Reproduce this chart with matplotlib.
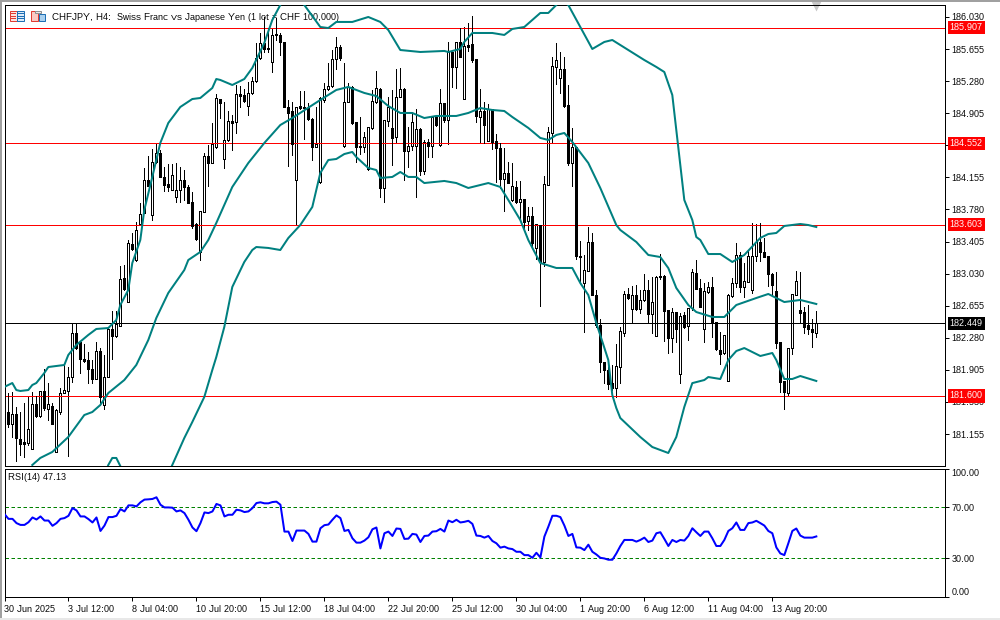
import matplotlib
matplotlib.use('Agg')
import matplotlib.pyplot as plt
from matplotlib.patches import Rectangle
from matplotlib.lines import Line2D
import numpy as np

plt.rcParams['font.family'] = ['Liberation Sans', 'DejaVu Sans']
plt.rcParams['text.hinting'] = 'native'
plt.rcParams['text.hinting_factor'] = 1

# white candle: open=low side of body, black candle: open=high side of body
opens = [181.60,181.415,181.27,181.387,181.10,181.056,181.052,180.985,181.504,181.368,181.652,181.45,181.485,180.95,181.415,181.63,181.66,181.816,182.33,182.234,182.027,182.019,181.91,181.797,182.124,181.493,181.816,182.378,182.304,182.421,182.975,182.702,
183.382,183.187,183.608,183.733,184.123,183.714,184.33,184.435,184.162,184.076,184.006,183.92,184.006,184.123,184.045,183.87,183.608,183.285,183.745,184.404,184.326,184.513,185.071,184.373,184.591,184.813,184.805,185.125,185.118,184.993,185.137,185.281,185.546,185.722,185.664,185.5,185.827,185.82,185.742,184.981,184.93,184.123,184.985,184.973,184.961,184.833,184.513,184.104,185.059,185.184,185.223,185.535,185.683,184.525,185.04,185.207,184.798,184.521,184.505,184.252,184.728,185.032,185.188,184.026,184.817,184.728,184.622,185.098,185.184,184.466,184.521,184.521,184.716,184.232,184.572,184.525,184.856,184.533,185.02,184.825,185.617,185.441,185.734,185.067,185.702,185.714,185.535,184.864,184.93,184.583,184.95,184.579,184.494,184.135,184.201,183.889,184.045,183.87,183.901,183.643,183.702,183.331,183.604,183.168,184.065,184.669,185.449,185.32,185.418,184.997,184.318,184.513,
183.228,182.916,183.064,183.396,182.78,182.429,181.992,181.902,181.746,181.695,181.941,182.339,182.791,182.612,182.776,182.612,182.721,182.838,182.553,182.304,183.002,183.002,182.604,182.28,182.577,181.851,182.545,182.421,182.623,183.033,182.858,182.378,182.811,182.869,182.467,182.136,182.097,181.777,182.772,182.924,183.248,182.877,182.935,182.838,183.236,183.404,183.287,183.236,183.021,182.826,182.226,181.773,181.637,182.156,182.78,182.604,182.577,182.425,182.382,182.339]
highs = [181.63,181.63,181.65,181.47,181.415,181.512,181.59,181.65,181.60,181.66,181.92,181.746,181.512,181.446,181.688,181.96,181.94,182.448,182.448,182.234,182.206,182.117,182.019,182.226,182.156,182.078,182.39,182.592,182.592,183.119,183.13,183.423,
183.499,183.63,183.854,184.26,184.404,184.49,184.56,184.47,184.279,184.31,184.31,184.318,184.279,184.24,184.065,183.987,183.616,183.764,184.435,184.533,184.794,185.125,185.071,185.032,184.93,184.884,185.235,185.223,185.184,185.273,185.332,185.722,185.839,186.034,185.9,185.9,186.015,185.847,185.742,185.059,185.04,184.981,185.168,185.168,185.02,184.845,184.981,185.09,185.254,185.488,185.644,185.792,185.702,185.488,185.254,185.223,184.798,184.864,184.688,184.747,185.176,185.398,185.196,184.825,185.098,185.176,185.418,185.43,185.196,184.747,184.903,184.95,184.728,184.591,184.60,184.876,184.884,185.188,185.02,185.734,185.617,185.742,185.90,185.909,185.956,186.042,185.535,185.188,185.04,185.012,184.95,184.657,184.552,184.501,184.338,184.318,184.111,184.111,183.901,183.811,183.811,183.608,183.604,184.17,184.747,185.566,185.73,185.625,185.558,185.235,184.727,184.513,
183.411,183.248,183.571,183.509,182.838,182.499,181.992,181.941,181.96,182.206,182.409,182.826,182.858,182.889,182.897,182.838,183.021,182.955,182.986,183.002,183.255,183.013,182.604,182.624,182.577,182.565,182.584,182.623,183.084,183.189,182.963,182.916,182.936,182.986,182.467,182.35,182.312,182.791,182.975,183.384,183.279,183.15,183.306,183.618,183.61,183.626,183.443,183.236,183.033,183.053,182.226,181.773,182.156,182.791,183.06,183.045,182.635,182.662,182.499,182.596]
lows = [181.49,181.24,181.12,180.84,180.91,180.89,181.025,180.985,181.356,181.356,181.434,181.317,181.27,180.95,181.387,181.63,180.896,181.766,182.144,181.87,182.0,181.754,181.754,181.797,181.493,181.446,181.816,182.035,182.292,182.421,182.838,182.694,
183.306,183.176,183.6,183.733,184.057,183.655,184.318,184.162,183.998,183.998,184.006,183.87,183.87,183.889,183.85,183.569,183.421,183.187,183.745,184.053,184.326,184.494,184.845,184.26,184.58,184.474,184.669,184.981,185.04,184.884,185.13,185.27,185.54,185.625,185.617,185.39,185.761,185.585,184.981,184.291,184.415,183.608,184.96,184.599,184.825,184.357,184.513,184.092,185.04,185.18,185.215,185.418,185.527,184.513,185.04,184.778,184.338,184.427,184.454,184.24,184.716,185.02,183.928,183.87,184.755,184.3,184.552,185.09,184.123,184.279,184.474,183.92,184.181,184.193,184.396,184.388,184.76,184.525,184.806,184.544,185.215,185.196,185.56,185.067,185.636,185.508,184.806,184.56,184.56,184.575,184.486,184.104,184.033,183.764,184.085,183.88,183.85,183.655,183.538,183.538,183.324,183.199,182.653,183.121,184.065,184.552,185.246,185.137,184.973,184.3,184.053,183.203,
182.916,182.343,183.055,182.78,182.409,181.875,181.746,181.676,181.668,181.59,181.746,182.304,182.73,182.468,182.60,182.565,182.71,182.448,182.331,182.304,182.963,182.245,182.097,182.117,182.234,181.754,182.40,182.253,182.61,182.845,182.635,182.234,182.80,182.292,182.135,181.968,182.09,181.777,182.76,182.877,182.819,182.76,182.93,182.807,183.177,183.181,183.22,182.889,182.78,182.163,181.649,181.453,181.602,182.085,182.78,182.448,182.331,182.323,182.175,182.284]
closes = [181.53,181.27,181.387,181.114,181.036,181.04,181.208,181.504,181.368,181.652,181.454,181.50,181.274,181.434,181.63,181.664,181.816,182.33,182.155,182.027,182.011,181.91,181.797,182.124,181.59,181.816,182.378,182.304,182.436,182.963,182.846,183.384,
183.312,183.538,183.725,184.123,184.057,184.33,184.435,184.162,184.065,184.045,184.18,184.006,184.123,184.045,183.858,183.585,183.44,183.764,184.404,184.326,184.544,185.079,185.02,184.591,184.817,184.794,185.125,185.11,185.051,185.137,185.281,185.546,185.722,185.656,185.656,185.82,185.816,185.742,184.981,184.911,184.544,184.981,184.969,184.961,184.833,184.513,184.544,185.079,185.184,185.223,185.535,185.683,185.546,185.04,185.207,184.786,184.513,184.505,184.622,184.739,185.047,185.196,184.026,184.825,184.981,184.618,185.098,185.184,184.466,184.521,184.798,184.716,184.232,184.572,184.525,184.856,184.767,185.02,184.825,185.617,185.441,185.734,185.566,185.695,185.683,185.527,184.876,184.93,184.767,184.95,184.572,184.494,184.135,184.201,184.092,184.053,183.87,183.897,183.636,183.702,183.39,183.608,183.168,184.072,184.681,185.457,185.527,185.418,184.989,184.318,184.513,183.238,
183.24,183.072,183.396,182.78,182.429,181.992,181.902,181.738,181.695,181.949,182.358,182.791,182.74,182.776,182.612,182.721,182.838,182.553,182.694,182.986,182.986,182.596,182.272,182.577,182.378,182.538,182.409,182.623,183.045,182.85,182.643,182.826,182.869,182.467,182.144,182.089,182.312,182.776,182.916,183.248,182.877,182.943,183.236,183.236,183.404,183.287,183.228,183.021,182.896,182.222,181.766,181.649,182.156,182.791,182.943,182.573,182.409,182.378,182.351,182.448]

# bollinger bands, read at the bends of each curve
upper_i = [0,2,3,4,6,7,8,10,11,15,16,18,21,23,26,28,29,31,32,34,35,37,39,41,44,47,49,52,53,54,57,60,62,65,67,69,71,75,79,81,83,87,91,94,96,99,104,110,111,114,115,117,122,125,127,130,134,136,138,139,141,144,147,150,152,156,160,163,165,167,168,170,172,173,174,176,179,182,185,189,191,193,195,199,201,203]
upper = [181.705,181.751,181.669,181.658,181.669,181.728,181.751,181.868,181.938,181.962,182.079,182.196,182.313,182.383,182.394,182.488,182.663,182.839,183.154,183.423,183.774,184.16,184.557,184.791,184.978,185.071,185.083,185.2,185.305,185.294,185.235,185.305,185.434,185.726,185.995,186.17,186.322,186.17,185.913,185.901,185.972,185.972,186.03,185.972,185.878,185.644,185.621,185.633,185.621,185.656,185.738,185.843,185.843,185.82,185.89,185.913,186.077,186.077,186.17,186.229,186.17,185.913,185.656,185.738,185.761,185.644,185.527,185.446,185.387,185.118,184.709,183.891,183.657,183.458,183.423,183.259,183.259,183.166,183.248,183.447,183.493,183.505,183.587,183.61,183.598,183.575]
middle_i = [7,9,12,16,20,22,24,26,30,33,36,38,41,45,46,49,51,53,57,61,65,69,72,79,83,86,90,93,96,99,102,105,108,113,116,119,122,125,127,131,134,136,138,140,142,146,149,153,154,158,161,164,166,168,171,173,177,180,183,188,191,195,199,203]
middle = [180.793,180.875,180.945,181.12,181.377,181.412,181.494,181.634,181.786,181.962,182.254,182.511,182.804,183.072,183.189,183.283,183.423,183.622,184.043,184.323,184.557,184.767,184.849,185.06,185.177,185.212,185.142,185.106,184.989,184.908,184.908,184.849,184.873,184.873,184.908,184.966,184.943,184.931,184.861,184.733,184.616,184.592,184.651,184.674,184.569,184.323,184.031,183.598,183.54,183.4,183.248,183.224,183.095,182.862,182.663,182.581,182.523,182.523,182.663,182.745,182.792,182.698,182.722,182.675]
lower_i = [25,26,27,28,29,30,33,38,42,45,47,50,52,53,55,57,60,62,63,66,69,71,74,77,79,81,83,85,87,88,91,93,94,97,99,101,103,105,110,113,116,121,124,126,129,131,134,138,142,144,146,148,151,152,153,154,159,162,166,168,170,172,175,176,179,181,183,185,189,192,193,195,197,199,203]
lower = [180.676,180.793,180.875,180.875,180.781,180.617,180.4,180.4,180.793,181.108,181.295,181.588,181.903,182.055,182.406,182.874,183.166,183.306,183.341,183.33,183.306,183.446,183.598,183.809,184.206,184.358,184.37,184.428,184.452,184.393,184.265,184.241,184.148,184.16,184.218,184.16,184.16,184.089,184.113,184.089,184.031,184.089,184.043,183.891,183.657,183.423,183.154,183.096,183.096,182.92,182.78,182.453,182.02,181.611,181.459,181.342,181.12,181.003,180.933,181.12,181.471,181.75,181.786,181.821,181.798,182.02,182.125,182.16,182.067,182.102,182.02,181.798,181.798,181.833,181.775]

rsi = [64.5,60.8,60.8,57.5,56.1,56.1,58.2,61.9,60.3,62.7,59.5,59.5,55.4,57.5,60.8,61.4,63.2,69.2,67.4,62.7,62.7,60.6,58,61.9,51.4,55.6,62.2,62.2,63.2,68.4,66.6,71.3,71.3,70.5,73.7,75.8,76,76.3,77.6,71.8,69.7,69.7,69.5,66.6,67.4,65.3,60.1,54.1,51.2,57.5,65.8,65.3,66.6,72.4,71.3,62.7,64,64,67.9,67.4,66.1,66.6,69.2,73.1,73.7,72.9,72.9,73.9,74.2,71.8,50.9,50.9,43.6,51.7,51.7,51.7,49.1,43.1,43.1,53.5,55.9,56.4,60.1,63.5,61.4,51.4,52.2,45.7,42.3,42.3,43.9,46.5,52.7,54.1,37.8,49.6,50.9,47.5,53.3,53,45.2,45.4,49.1,48.6,42.8,47.5,47.8,50.9,51.2,53,50.9,59.5,58.2,60.1,58,58.5,59.3,56.9,47.8,47.5,46.2,47.5,43.6,41.8,38.4,
39.2,37.8,37.3,35.2,35.2,32.6,32.6,30.5,34.4,30.8,47,54.8,63.2,63.2,62.2,55.6,47.5,49.1,38.6,38.4,36.5,40.7,35.2,33.1,30.5,30,29,29,33.9,39.7,44.4,44.4,44.4,43.1,44.4,46.2,42.8,43.9,49.6,50.4,45.2,39.7,44.4,42.8,44.4,43.9,47.5,53.5,50.4,47.5,50.9,50.9,45.7,39.7,39.7,44.4,51.4,53.5,58,52.2,52.2,57.5,58,59.3,57.5,55.6,51.4,49.6,38.6,33.9,32.6,41.8,51.4,53.3,47.8,46.2,46.2,46.2,47.13]

price_ticks = [186.030,185.655,185.280,184.905,184.530,184.155,183.780,183.405,183.030,182.655,182.280,181.905,181.530,181.155]
red_levels = [185.907,184.552,183.603,181.600]
last_price = 182.449
time_ticks = [0,16,32,48,64,80,96,112,128,144,160,176,192]
time_labels = ['30 Jun 2025','3 Jul 12:00','8 Jul 04:00','10 Jul 20:00','15 Jul 12:00','18 Jul 04:00','22 Jul 20:00','25 Jul 12:00','30 Jul 04:00','1 Aug 20:00','6 Aug 12:00','11 Aug 04:00','13 Aug 20:00']

W, H = 1000, 620
PX = 0.72
FS = 6.8
TEAL = '#008080'

def box(l, t, r, b):
    return [l / W, 1 - b / H, (r - l) / W, (b - t) / H]

fig = plt.figure(figsize=(10, 6.2), dpi=100, facecolor='white')

# window edges and title icons, in pixels
bg = fig.add_axes([0, 0, 1, 1], zorder=5)
bg.set_xlim(0, W)
bg.set_ylim(H, 0)
bg.axis('off')
bg.patch.set_alpha(0)
bg.add_patch(Rectangle((0, 0), W, 1.5, fc='#a0a0a0', ec='none'))
bg.add_patch(Rectangle((0, 0), 2, H, fc='#a0a0a0', ec='none'))
bg.add_patch(Rectangle((0, 618), W, 2, fc='#e8e8e8', ec='none'))
for l, t, w, h, c, f in [(9.5, 10.5, 7, 10, '#e03c32', '#fde4e0'), (16.5, 10.5, 7.5, 10, '#1f6fb4', '#dcebf8'),
                         (30.5, 10.5, 7, 10, '#e03c32', '#fbc9c2'), (38.5, 13.5, 6.5, 7, '#1f6fb4', '#a9d0ef'),
                         (34.5, 10.5, 6, 2.5, '#909090', '#e8e8e8')]:
    bg.add_patch(Rectangle((l, t), w, h, fc=f, ec=c, lw=PX))
for y in (13, 15.5, 18):
    bg.add_line(Line2D([11, 15], [y, y], color='#e03c32', lw=PX))
    bg.add_line(Line2D([18, 23], [y, y], color='#1f6fb4', lw=PX))

ax = fig.add_axes(box(4.5, 4.5, 945.5, 466))
ax2 = fig.add_axes(box(4.5, 468.5, 945.5, 597))

x = np.arange(len(closes))
o = np.array(opens)
c = np.array(closes)
hi = np.array(highs)
lo = np.array(lows)
up = c >= o

# white bodies sit under the level lines, black ones over them
ax.vlines(x[up], lo[up], hi[up], color='black', lw=PX, zorder=0.4, antialiased=False)
ax.bar(x[up], (c - o)[up], bottom=o[up], width=0.5, facecolor='white', edgecolor='black', lw=PX, zorder=0.5, antialiased=False)
for level in red_levels:
    ax.axhline(level, color='#ff0000', lw=PX, zorder=1)
ax.axhline(last_price, color='black', lw=PX, zorder=1)

ax.vlines(x[~up], lo[~up], hi[~up], color='black', lw=PX, zorder=3, antialiased=False)
ax.bar(x[~up], (c - o)[~up], bottom=o[~up], width=0.5, facecolor='black', edgecolor='black', lw=PX, zorder=4, antialiased=False)

ax.plot(upper_i, upper, color=TEAL, lw=1.45, zorder=5)
ax.plot(middle_i, middle, color=TEAL, lw=1.45, zorder=5)
ax.plot(lower_i, lower, color=TEAL, lw=1.45, zorder=5)

ax.set_xlim(0.05, 235.3)
ax.set_ylim(180.781, 186.176)
ax.set_xticks([])
ax.yaxis.tick_right()
ax.set_yticks(price_ticks)
# 184.530 sits fully behind the 184.552 box in the reference
ax.set_yticklabels(['' if p == 184.530 else '%.3f' % p for p in price_ticks])
ax.tick_params(axis='y', length=3, width=PX, pad=1.2, labelsize=FS, colors='black')

ax.text(0.0502, 0.9725, 'CHFJPY, H4:  Swiss Franc vs Japanese Yen (1 lot = CHF 100,000)', transform=ax.transAxes,
        fontsize=6.6, va='center', ha='left', zorder=2)
ax.plot([203], [0.9957], marker='v', ms=6.5, color='#c8c8c8', mec='none', transform=ax.get_xaxis_transform(), clip_on=False)

for level, col in [(l, '#ff0000') for l in red_levels] + [(last_price, 'black')]:
    ax.annotate('%.3f' % level, xy=(1, level), xycoords=ax.get_yaxis_transform(), xytext=(3.1, 0),
                textcoords='offset points', va='center', ha='left', color='white', fontsize=FS, zorder=10,
                annotation_clip=False, bbox=dict(fc=col, ec='none', boxstyle='square,pad=0.22'))

ax2.axhline(70, color='#008000', lw=PX, ls=(0, (3.5, 2.5)), zorder=1)
ax2.axhline(30, color='#008000', lw=PX, ls=(0, (3.5, 2.5)), zorder=1)
ax2.plot(np.arange(len(rsi)), rsi, color='#0000ff', lw=1.45, zorder=3)
ax2.set_xlim(0.05, 235.3)
ax2.set_ylim(0, 100)
ax2.yaxis.tick_right()
ax2.set_yticks([100, 70, 30, 0])
ax2.set_yticklabels(['100.00', '70.00', '30.00', '0.00'])
ax2.tick_params(axis='y', length=3, width=PX, pad=1.2, labelsize=FS)
labs = ax2.get_yticklabels()
labs[0].set_verticalalignment('top')
labs[3].set_verticalalignment('bottom')
ax2.set_xticks(time_ticks)
ax2.set_xticklabels(time_labels, ha='left')
ax2.tick_params(axis='x', length=3, width=PX, pad=2.5, labelsize=FS)
ax2.text(0.0035, 0.93, 'RSI(14) 47.13', transform=ax2.transAxes, fontsize=FS, va='center', ha='left')

for a in (ax, ax2):
    for s in a.spines.values():
        s.set_linewidth(PX)

assert len(opens) == len(highs) == len(lows) == len(closes) == 204 == len(rsi)
fig.savefig('out.png', dpi=100)
